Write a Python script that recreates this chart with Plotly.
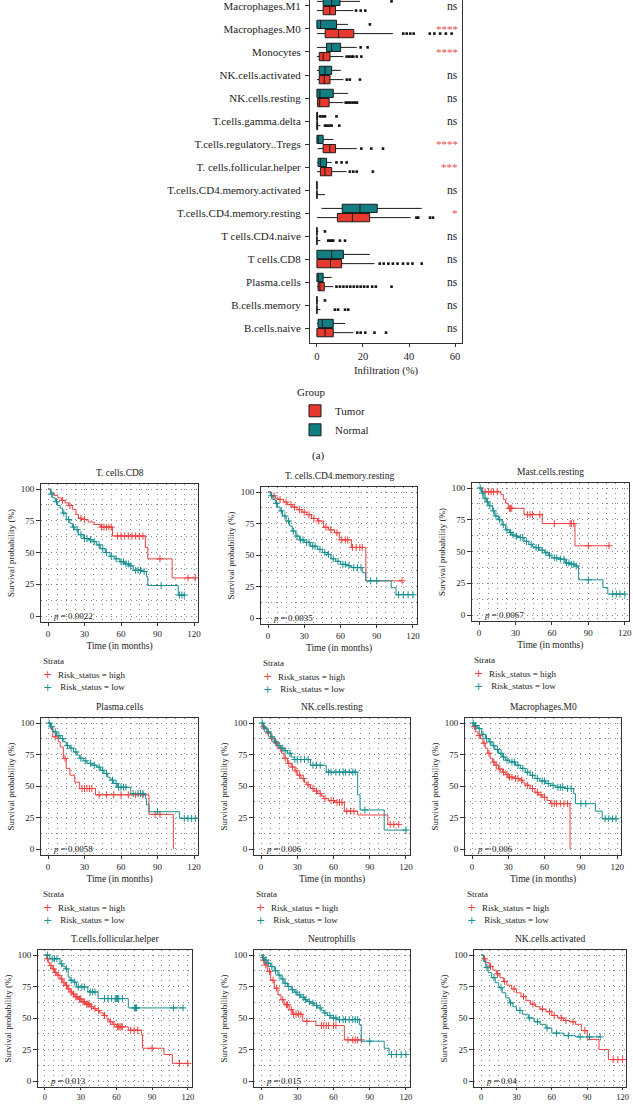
import plotly.graph_objects as go

# ======================= DATA =======================
# ---- panel (a): immune cell infiltration, top to bottom ----
categories = ["Macrophages.M1", "Macrophages.M0", "Monocytes", "NK.cells.activated",
              "NK.cells.resting", "T.cells.gamma.delta", "T.cells.regulatory..Tregs",
              "T. cells.follicular.helper", "T.cells.CD4.memory.activated",
              "T.cells.CD4.memory.resting", "T cells.CD4.naive", "T cells.CD8",
              "Plasma.cells", "B.cells.memory", "B.cells.naive"]

normal_q1 = [2.7, 0, 4.2, 1, 0, 0, 0, 0.5, 0, 11, 0, 0, 0, 0, 0.5]
normal_median = [6.4, 1.6, 6.4, 3.5, 1.3, 0, 0.6, 1.5, 0, 18.7, 0, 6.4, 0.6, 0, 2.4]
normal_q3 = [10, 8.5, 10.3, 6.4, 7.1, 0.3, 2.7, 4.2, 0, 26.2, 0, 11.5, 2.7, 0, 7.1]
normal_low = [0, 0, 0, 0, 0, 0, 0, 0, 0, 2, 0, 0, 0, 0, 0]
normal_high = [18.7, 13.5, 17.3, 10.3, 13.6, 0.8, 7.1, 6.4, 0.2, 45.5, 0.6, 23, 6.4, 0.6, 12.2]
normal_outliers = [[32.4], [23], [19, 22], [], [], [1.5, 2.5, 3.5, 8.5], [],
                   [8.5, 10.7, 12.9], [], [], [3.5], [], [], [3.5], []]

tumor_q1 = [2.7, 3.6, 1, 1, 0.3, 0, 2.7, 1.5, 0, 8.9, 0, 0, 0.5, 0, 0]
tumor_median = [5.6, 9.4, 2.7, 3.2, 1.2, 0, 5.6, 3.5, 0, 15.4, 0, 5.9, 1.3, 0, 3.5]
tumor_q3 = [8.1, 16, 5.7, 5.7, 5.3, 0.3, 8.1, 6.4, 0, 22.9, 0, 10.7, 3.2, 0, 7.1]
tumor_low = [0, 0, 0, 0, 0, 0, 0.3, 0, 0, 0, 0, 0, 0, 0, 0]
tumor_high = [15.8, 33, 11.5, 11.5, 11.5, 1.5, 17.3, 12.9, 3.5, 40.7, 1.5, 25, 7.1, 1.5, 15.8]
tumor_outliers = [[17, 19, 21],
                  [37.5, 39, 40.5, 42, 49, 51, 53.5, 56, 58.5],
                  [12.9, 14, 15, 15.8, 17.3, 19.3],
                  [13, 14.3, 18.7],
                  [12.5, 13.5, 14.5, 15.5, 16.5, 17.4],
                  [3.5, 4.5, 5.5, 6.4, 9.7],
                  [19.3, 23.6, 28.7],
                  [14.3, 15.8, 17.3, 24.3],
                  [],
                  [43.2, 44, 49.1, 50.4],
                  [4.9, 5.6, 6.4, 7.1, 10, 12.2],
                  [27.3, 29, 31, 33, 35, 37.4, 39.5, 41.5, 45.5],
                  [8.5, 10, 11.5, 13, 14.5, 16, 17.5, 19, 20.5, 22, 24, 25.6, 32.4],
                  [7.8, 9.2, 12.2, 13.6],
                  [17.5, 19, 21, 25, 30]]
significance = ["ns", "****", "****", "ns", "ns", "ns", "****", "***", "ns", "*",
                "ns", "ns", "ns", "ns", "ns"]
box_x_ticks = [0, 20, 40, 60]

# ---- Kaplan-Meier panels ----
km_titles = ["T. cells.CD8", "T. cells.CD4.memory.resting", "Mast.cells.resting",
             "Plasma.cells", "NK.cells.resting", "Macrophages.M0",
             "T.cells.follicular.helper", "Neutrophills", "NK.cells.activated"]
km_pvalues = ["0.0022", "0.0035", "0.0067", "0.0058", "0.006", "0.006", "0.013", "0.015", "0.04"]
km_x_ticks = [0, 30, 60, 90, 120]
km_y_ticks = [0, 25, 50, 75, 100]

cd8_high_t = [0, 2, 5, 8, 11, 14, 17, 20, 23, 25, 28, 33, 38, 43, 53, 80, 82, 102, 121]
cd8_high_s = [100, 97, 95, 93, 91, 89, 87, 84, 80, 77, 76, 74, 72, 70, 63, 54, 45, 30, 30]
cd8_high_c = [12, 18, 27, 30, 44, 46, 48, 50, 52, 57, 60, 63, 66, 69, 72, 75, 78, 92, 115, 121]
cd8_low_t = [0, 2, 4, 6, 8, 10, 12, 15, 18, 20, 22, 25, 29, 33, 37, 40, 43, 47, 51, 55, 59, 63,
             67, 70, 78, 81, 82, 107, 112]
cd8_low_s = [100, 96, 93, 90, 87, 85, 81, 76, 73, 70, 68, 64, 61, 60, 58.5, 56, 53, 50, 47, 45,
             42.7, 41, 39.5, 36, 35, 31, 24, 16.5, 16.5]
cd8_low_c = [3, 7, 13, 17, 21, 24, 27, 30, 32, 35, 38, 42, 45, 48, 52, 56, 60, 62, 64, 66, 68,
             72, 74, 76, 79, 93, 108, 110, 112]

cd4r_high_t = [0, 3, 6, 9, 13, 16, 20, 24, 28, 32, 36, 41, 46, 50, 55, 59, 69, 81, 111]
cd4r_high_s = [100, 97, 95, 94, 92, 90, 88, 86, 84, 82, 79, 77, 72, 70, 67.6, 62, 56, 29.5, 29.5]
cd4r_high_c = [5, 10, 15, 19, 22, 26, 30, 34, 38, 42, 48, 52, 57, 61, 64, 66, 70, 73, 76, 78, 111]
cd4r_low_t = [0, 2, 4, 6, 8, 10, 12, 15, 18, 20, 23, 26, 30, 35, 41, 45, 49, 52, 56, 60, 65, 69,
              78, 81, 102, 106, 120]
cd4r_low_s = [100, 97, 94, 91, 88, 85, 81, 77, 73, 69, 65, 62, 60, 57, 54.5, 52, 50.5, 47, 45,
              42.6, 41.5, 40, 36, 29.5, 24, 18.5, 18.5]
cd4r_low_c = [3, 7, 11, 14, 17, 21, 24, 27, 29, 32, 34, 37, 39, 43, 47, 50, 54, 58, 62, 64, 67,
              71, 74, 77, 85, 90, 108, 112, 116, 120]

mast_high_t = [0, 3, 18, 20, 22, 24, 37, 52, 79, 107]
mast_high_s = [100, 97, 95, 91, 88, 84, 79, 72, 54.5, 54.5]
mast_high_c = [5, 8, 10, 12, 15, 25, 26, 27, 40, 42, 44, 50, 62, 75, 76, 78, 90, 107]
mast_low_t = [0, 2, 4, 6, 8, 11, 13, 16, 19, 22, 25, 27, 30, 33, 37, 41, 44, 46, 50, 54, 57, 60,
              65, 71, 75, 79, 82, 102, 106, 120]
mast_low_s = [100, 96, 92, 89, 86, 82, 78, 75, 71, 67, 65, 63, 62, 61, 58, 55.6, 54, 53, 51, 49,
              47, 45, 44, 41, 40, 38.6, 27.7, 21.7, 16.5, 16.5]
mast_low_c = [1, 3, 5, 7, 9, 12, 14, 17, 20, 23, 26, 28, 31, 34, 36, 39, 43, 47, 49, 52, 55, 58,
              62, 64, 67, 70, 72, 74, 76, 78, 80, 90, 110, 113, 116, 120]

plasma_high_t = [0, 2, 4, 8.5, 10, 12.6, 15, 18, 22, 26, 39, 83, 103]
plasma_high_s = [100, 95.5, 89, 85, 81, 72, 64, 58.6, 53, 48, 43, 27.5, 0]
plasma_high_c = [6, 14, 28, 30, 32, 34, 36, 42, 48, 54, 60, 66, 72, 78, 88, 92]
plasma_low_t = [0, 2, 4, 7, 10, 13, 15, 18, 21, 24, 26, 29, 32, 36, 40, 43, 46, 49, 51, 54, 57,
                68, 80, 81, 83, 108, 121]
plasma_low_s = [100, 97, 93, 90, 87.6, 85, 82, 80, 77, 74.5, 72, 70, 68, 66.5, 65, 62.5, 60, 57,
                54.6, 52, 49, 44, 40, 35, 29.6, 24.3, 24.3]
plasma_low_c = [1, 3, 6, 9, 12, 16, 19, 23, 27, 31, 35, 38, 42, 45, 48, 53, 56, 58, 60, 62, 64,
                70, 74, 76, 78, 90, 112, 115, 118, 121]

nkr_high_t = [0, 1, 3, 5, 8, 11, 14, 17, 19, 22, 25, 28, 30, 33, 36, 38, 41, 44, 47, 50, 52, 56,
              61, 69, 80, 105, 114]
nkr_high_s = [100, 97, 95.5, 92, 87.6, 84, 80, 76, 72, 68, 65, 62, 58.6, 56, 53, 51, 48, 46, 44,
              42, 40, 38.5, 37, 30, 27, 19.5, 19.5]
nkr_high_c = [2, 6, 9, 13, 16, 20, 23, 26, 29, 32, 35, 39, 43, 46, 49, 53, 58, 60, 63, 65, 67,
              71, 74, 77, 107, 110, 114]
nkr_low_t = [0, 2, 5, 8, 11, 14, 16.5, 19, 22, 25, 27.6, 41, 54, 80, 82, 102, 120]
nkr_low_s = [100, 96, 93, 89, 85, 82, 80, 78, 76, 73, 71, 66.5, 61, 43, 31, 15, 15]
nkr_low_c = [1, 3, 6, 9, 12, 15, 18, 20, 24, 28, 30, 33, 36, 39, 43, 46, 49, 56, 58, 62, 65, 68,
             70, 73, 76, 78, 86, 120]

m0_high_t = [0, 1, 3, 5, 7, 9, 11, 13, 15, 17, 19, 22, 25, 28, 30, 35, 39, 42, 44, 48, 52, 55,
             58, 62, 65, 81]
m0_high_s = [100, 97, 93, 90, 87.6, 84, 80, 76, 72, 69, 66.5, 63.5, 61, 59, 57, 56, 54.6, 52.5,
             50.6, 48, 45, 43, 41, 38.5, 36, 0]
m0_high_c = [2, 6, 10, 14, 18, 20, 23, 26, 29, 31, 33, 36, 38, 41, 46, 50, 54, 57, 60, 66, 68,
             70, 73, 76, 79]
m0_low_t = [0, 2, 4, 5.5, 8, 11, 14, 16.5, 19, 22, 25, 27.6, 31, 36, 40, 44, 48, 52, 56, 61, 65,
            69, 77, 84, 85.5, 102, 107.6, 121]
m0_low_s = [100, 98, 96.5, 95.5, 91, 87.6, 85, 82, 79, 76, 73, 70.5, 69, 66.5, 64, 61, 58.5, 56,
            54, 52, 50.5, 49, 48, 44, 36, 30, 24, 24]
m0_low_c = [1, 3, 6, 9, 12, 15, 18, 21, 24, 26, 29, 33, 35, 38, 42, 46, 50, 54, 58, 60, 63, 67,
            71, 73, 75, 79, 82, 90, 94, 110, 113, 116, 119]

tfh_high_t = [0, 1.4, 3, 4, 6, 8, 10, 12.6, 15, 17, 19, 21, 23, 25, 28, 31, 34, 38, 41, 43, 46,
              49, 52, 54, 57, 60, 70, 81, 82, 100, 107, 120]
tfh_high_s = [100, 97, 94, 91.6, 89, 86, 84, 81, 78, 76, 73, 70.7, 69, 66.8, 65, 62.8, 61, 59,
              57.5, 56, 54, 52, 49, 47, 45, 43, 40.3, 36.6, 26, 21, 14, 14]
tfh_high_c = [2, 5, 7, 9, 11, 14, 16, 18, 20, 22, 24, 26, 27, 29, 30, 32, 33, 35, 36, 37, 39,
              42, 45, 50, 55, 58, 61, 62, 63, 64, 65, 72, 75, 78, 90, 113, 120]
tfh_low_t = [0, 4, 12.6, 15, 17, 19.5, 21, 23.7, 26.5, 36, 44.6, 70, 116]
tfh_low_s = [100, 97, 93, 91, 89, 82.5, 80, 78.5, 74.6, 70.7, 65.4, 58, 58]
tfh_low_c = [2, 6, 8, 10, 14, 18, 22, 25, 28, 31, 33, 38, 40, 42, 50, 53, 56, 59, 60, 61, 62,
             65, 75, 76, 77, 108, 116]

neu_high_t = [0, 1.4, 3, 5.5, 8, 11, 14, 16.5, 19, 20.7, 23.4, 26, 34.5, 45.5, 69, 83]
neu_high_s = [100, 96, 92, 87, 80, 73.7, 68.4, 64.5, 61, 60.5, 56.6, 53, 47.4, 44, 32.6, 32.6]
neu_high_c = [2, 4, 7, 10, 13, 18, 21, 22, 25, 27, 29, 31, 33, 38, 50, 52, 54, 56, 60, 62, 72,
              76, 78, 80, 83]
neu_low_t = [0, 1, 3, 5, 8, 11, 14, 16.5, 19, 22, 25, 27.5, 30, 33, 36, 38.5, 41, 44, 47, 50,
             52, 55, 58, 63, 81.4, 83, 102, 106, 120]
neu_low_s = [100, 98, 96, 93.5, 90.8, 87.5, 84, 81, 77.6, 75, 72.4, 70.5, 68.4, 66.5, 64.5, 63,
             61.8, 60, 58, 56, 54, 52, 50, 48.7, 44.7, 31.6, 26, 21, 21]
neu_low_c = [2, 4, 6, 9, 12, 15, 18, 20, 23, 26, 29, 32, 35, 37, 40, 43, 46, 49, 53, 57, 60, 62,
             65, 68, 70, 73, 76, 78, 80, 90, 108, 112, 116, 120]

nka_high_t = [0, 2, 4, 7, 10, 13, 16, 19, 22, 26, 30, 34, 38, 42, 46, 50, 55, 60, 65, 70, 75,
              80, 85, 90, 100, 108, 120]
nka_high_s = [100, 97, 94, 91, 88, 85, 82, 79, 76, 73, 70, 67, 64, 61, 59, 57, 55, 52, 50, 48,
              47, 45, 40, 33, 25, 17, 17]
nka_high_c = [3, 8, 14, 20, 28, 36, 44, 52, 58, 62, 68, 72, 78, 88, 112, 116, 120]
nka_low_t = [0, 2, 4, 6, 9, 12, 15, 18, 21, 24, 27, 30, 35, 40, 45, 50, 55, 60, 70, 80, 101]
nka_low_s = [100, 95, 90, 86, 82, 78, 74, 70, 66, 62, 59, 56, 53, 50, 47, 45, 42, 38, 36, 35, 35]
nka_low_c = [5, 11, 17, 25, 33, 41, 48, 56, 64, 74, 84, 92, 101]

# ======================= STYLE / LAYOUT =======================
W, H = 633, 1105
SERIF = "Liberation Serif"
INK = "#222222"
RED_BOX, TEAL_BOX = "#E8392E", "#117E81"
RED, TEAL = "#EE4040", "#17908F"
SIG_RED = "#EE4B4B"


def px(x):
    return min(max(x / W, 0.0), 1.0)


def py(y):
    return min(max(1 - y / H, 0.0), 1.0)


fig = go.Figure()
annotations = []
layout = dict(width=W, height=H, margin=dict(l=0, r=0, t=0, b=0, autoexpand=False),
              paper_bgcolor="white", plot_bgcolor="white", boxmode="overlay",
              font=dict(family=SERIF, color=INK), showlegend=True)

# ---------- panel (a) ----------
n = len(categories)
pos = [n - 1 - i for i in range(n)]
OFF, BW = 0.2, 0.36
fig.add_trace(go.Box(name="Tumor", orientation="h", y=[p - OFF for p in pos],
                     q1=tumor_q1, median=tumor_median, q3=tumor_q3,
                     lowerfence=tumor_low, upperfence=tumor_high,
                     fillcolor=RED_BOX, line=dict(color="#1a1a1a", width=1),
                     whiskerwidth=0, width=BW, boxpoints=False, xaxis="x", yaxis="y"))
fig.add_trace(go.Box(name="Normal", orientation="h", y=[p + OFF for p in pos],
                     q1=normal_q1, median=normal_median, q3=normal_q3,
                     lowerfence=normal_low, upperfence=normal_high,
                     fillcolor=TEAL_BOX, line=dict(color="#1a1a1a", width=1),
                     whiskerwidth=0, width=BW, boxpoints=False, xaxis="x", yaxis="y"))
for outs, off, nm in [(tumor_outliers, -OFF, "Tumor outliers"), (normal_outliers, OFF, "Normal outliers")]:
    xs, ys = [], []
    for p, vals in zip(pos, outs):
        for v in vals:
            xs.append(v)
            ys.append(p + off)
    fig.add_trace(go.Scatter(x=xs, y=ys, mode="markers", name=nm, showlegend=False,
                             marker=dict(color="#111", size=2.6, symbol="square"),
                             xaxis="x", yaxis="y"))

for p, s in zip(pos, significance):
    annotations.append(dict(x=62, y=p, xref="x", yref="y", text=s, showarrow=False,
                            xanchor="right", yanchor="middle",
                            font=dict(size=11.5 if s == "ns" else 11, family=SERIF,
                                      color=INK if s == "ns" else SIG_RED)))

layout["xaxis"] = dict(domain=[px(310), px(462)], range=[-3, 63], tickvals=box_x_ticks,
                       ticks="outside", ticklen=3, tickcolor="#333", showline=True,
                       linecolor="#333", linewidth=1, showgrid=False, zeroline=False,
                       tickfont=dict(size=10.5), anchor="y", automargin=False,
                       title=dict(text="Infiltration (%)", font=dict(size=10.5), standoff=6))
layout["yaxis"] = dict(domain=[py(343), 1], range=[-0.65, 14.26], tickvals=pos,
                       ticktext=categories, ticks="outside", ticklen=4, tickcolor="#333",
                       showline=True, mirror=True, linecolor="#333", linewidth=1,
                       showgrid=False, zeroline=False, tickfont=dict(size=11), anchor="x",
                       automargin=False, ticklabeloverflow="allow", ticklabelstandoff=2)
layout["legend"] = dict(x=px(295), y=py(382), xanchor="left", yanchor="top",
                        title=dict(text="Group", font=dict(size=11), side="top"),
                        font=dict(size=11, family=SERIF), traceorder="normal",
                        bgcolor="rgba(0,0,0,0)", itemwidth=30)
annotations.append(dict(x=px(318), y=py(455), xref="paper", yref="paper", text="(a)",
                        showarrow=False, xanchor="center", yanchor="middle",
                        font=dict(size=11, family=SERIF, color=INK)))

# ---------- Kaplan-Meier panels ----------
km_data = [
    (cd8_high_t, cd8_high_s, cd8_high_c, cd8_low_t, cd8_low_s, cd8_low_c),
    (cd4r_high_t, cd4r_high_s, cd4r_high_c, cd4r_low_t, cd4r_low_s, cd4r_low_c),
    (mast_high_t, mast_high_s, mast_high_c, mast_low_t, mast_low_s, mast_low_c),
    (plasma_high_t, plasma_high_s, plasma_high_c, plasma_low_t, plasma_low_s, plasma_low_c),
    (nkr_high_t, nkr_high_s, nkr_high_c, nkr_low_t, nkr_low_s, nkr_low_c),
    (m0_high_t, m0_high_s, m0_high_c, m0_low_t, m0_low_s, m0_low_c),
    (tfh_high_t, tfh_high_s, tfh_high_c, tfh_low_t, tfh_low_s, tfh_low_c),
    (neu_high_t, neu_high_s, neu_high_c, neu_low_t, neu_low_s, neu_low_c),
    (nka_high_t, nka_high_s, nka_high_c, nka_low_t, nka_low_s, nka_low_c),
]
# pixel geometry per panel: x of t=0, px per month, y of 100 %, y of 0 %
km_geom = [(48, 1.217, 489, 616), (268, 1.208, 492, 618), (479, 1.215, 488, 615),
           (48, 1.217, 723, 849), (261, 1.208, 723, 849), (472, 1.21, 723, 849),
           (45, 1.19, 955, 1081), (261, 1.208, 955, 1081), (481, 1.18, 955, 1081)]
XR = [-5.75, 123.3]
YR = [-4.7, 104]
GRID = dict(gridcolor="#888", griddash="1px,4px", gridwidth=1)


def surv_at(ts, ss, c):
    val = ss[0]
    for t, s in zip(ts, ss):
        if t <= c:
            val = s
        else:
            break
    return val


for k, (data, (x0, sx, y100, y0)) in enumerate(zip(km_data, km_geom)):
    ax = k + 2
    xa, ya = f"x{ax}", f"y{ax}"
    for t, s, c, col, nm in [(data[0], data[1], data[2], RED, "Risk_status = high"),
                             (data[3], data[4], data[5], TEAL, "Risk_status = low")]:
        fig.add_trace(go.Scatter(x=t, y=s, mode="lines", line=dict(color=col, width=1, shape="hv"),
                                 name=nm, showlegend=False, xaxis=xa, yaxis=ya))
        fig.add_trace(go.Scatter(x=c, y=[surv_at(t, s, ci) for ci in c], mode="markers",
                                 name=nm + " (censored)", showlegend=False, xaxis=xa, yaxis=ya,
                                 marker=dict(symbol="cross-thin", size=5,
                                             line=dict(width=1, color=col))))
    sy = (y0 - y100) / 100.0
    left, right = x0 + XR[0] * sx, x0 + XR[1] * sx
    top, bottom = y0 - YR[1] * sy, y0 - YR[0] * sy
    last_row = k >= 6
    layout[f"xaxis{ax}"] = dict(domain=[px(left), px(right)], range=XR, anchor=ya,
                                tickvals=km_x_ticks, ticks="outside", ticklen=2 if last_row else 3,
                                tickcolor="#333",
                                showline=True, mirror=True, linecolor="#333", linewidth=1,
                                zeroline=False, showgrid=True, **GRID, automargin=False,
                                ticklabeloverflow="allow",
                                minor=dict(dtick=7.5, tick0=0, showgrid=True, **GRID),
                                tickfont=dict(size=8.5 if last_row else 9, family=SERIF),
                                title=dict(text="" if last_row else "Time (in months)",
                                           font=dict(size=9.5, family=SERIF), standoff=4))
    layout[f"yaxis{ax}"] = dict(domain=[py(bottom), py(top)], range=YR, anchor=xa,
                                tickvals=km_y_ticks, ticks="outside", ticklen=4, tickcolor="#333",
                                showline=True, mirror=True, linecolor="#333", linewidth=1,
                                zeroline=False, showgrid=True, **GRID, automargin=False,
                                minor=dict(dtick=12.5, tick0=0, showgrid=True, **GRID),
                                tickfont=dict(size=9, family=SERIF),
                                title=dict(text="Survival probability (%)",
                                           font=dict(size=9, family=SERIF), standoff=4))
    # panel title
    annotations.append(dict(x=px((left + right) / 2), y=py(top - 11), xref="paper", yref="paper",
                            text=km_titles[k], showarrow=False, xanchor="center",
                            yanchor="middle", font=dict(size=9.5, family=SERIF, color=INK)))
    # p value
    annotations.append(dict(x=2.5, y=0, xref=xa, yref=ya, text=f"<i>p</i> = {km_pvalues[k]}",
                            showarrow=False, xanchor="left", yanchor="middle",
                            font=dict(size=9, family=SERIF, color=INK)))
    # strata legend (rows 1 and 2 only; row 3 legend lies below the picture)
    if not last_row:
        annotations.append(dict(x=px(left), y=py(bottom + 39), xref="paper", yref="paper",
                                text="Strata", showarrow=False, xanchor="left", yanchor="middle",
                                font=dict(size=9, family=SERIF, color=INK)))
        for j, (col, nm) in enumerate([(RED, "Risk_status = high"), (TEAL, " Risk_status = low")]):
            yy = bottom + 53 + 12.5 * j
            annotations.append(dict(x=px(left + 6), y=py(yy), xref="paper", yref="paper",
                                    text="+", showarrow=False, xanchor="center", yanchor="middle",
                                    font=dict(size=11, family="DejaVu Sans", color=col)))
            annotations.append(dict(x=px(left + 15), y=py(yy), xref="paper", yref="paper",
                                    text=nm, showarrow=False, xanchor="left", yanchor="middle",
                                    font=dict(size=9, family=SERIF, color=INK)))

layout["annotations"] = annotations
fig.update_layout(**layout)
fig.write_html("out.html", config={"displayModeBar": False},
               post_script="document.body.style.margin='0px';"
                           "document.body.style.overflow='hidden';")
